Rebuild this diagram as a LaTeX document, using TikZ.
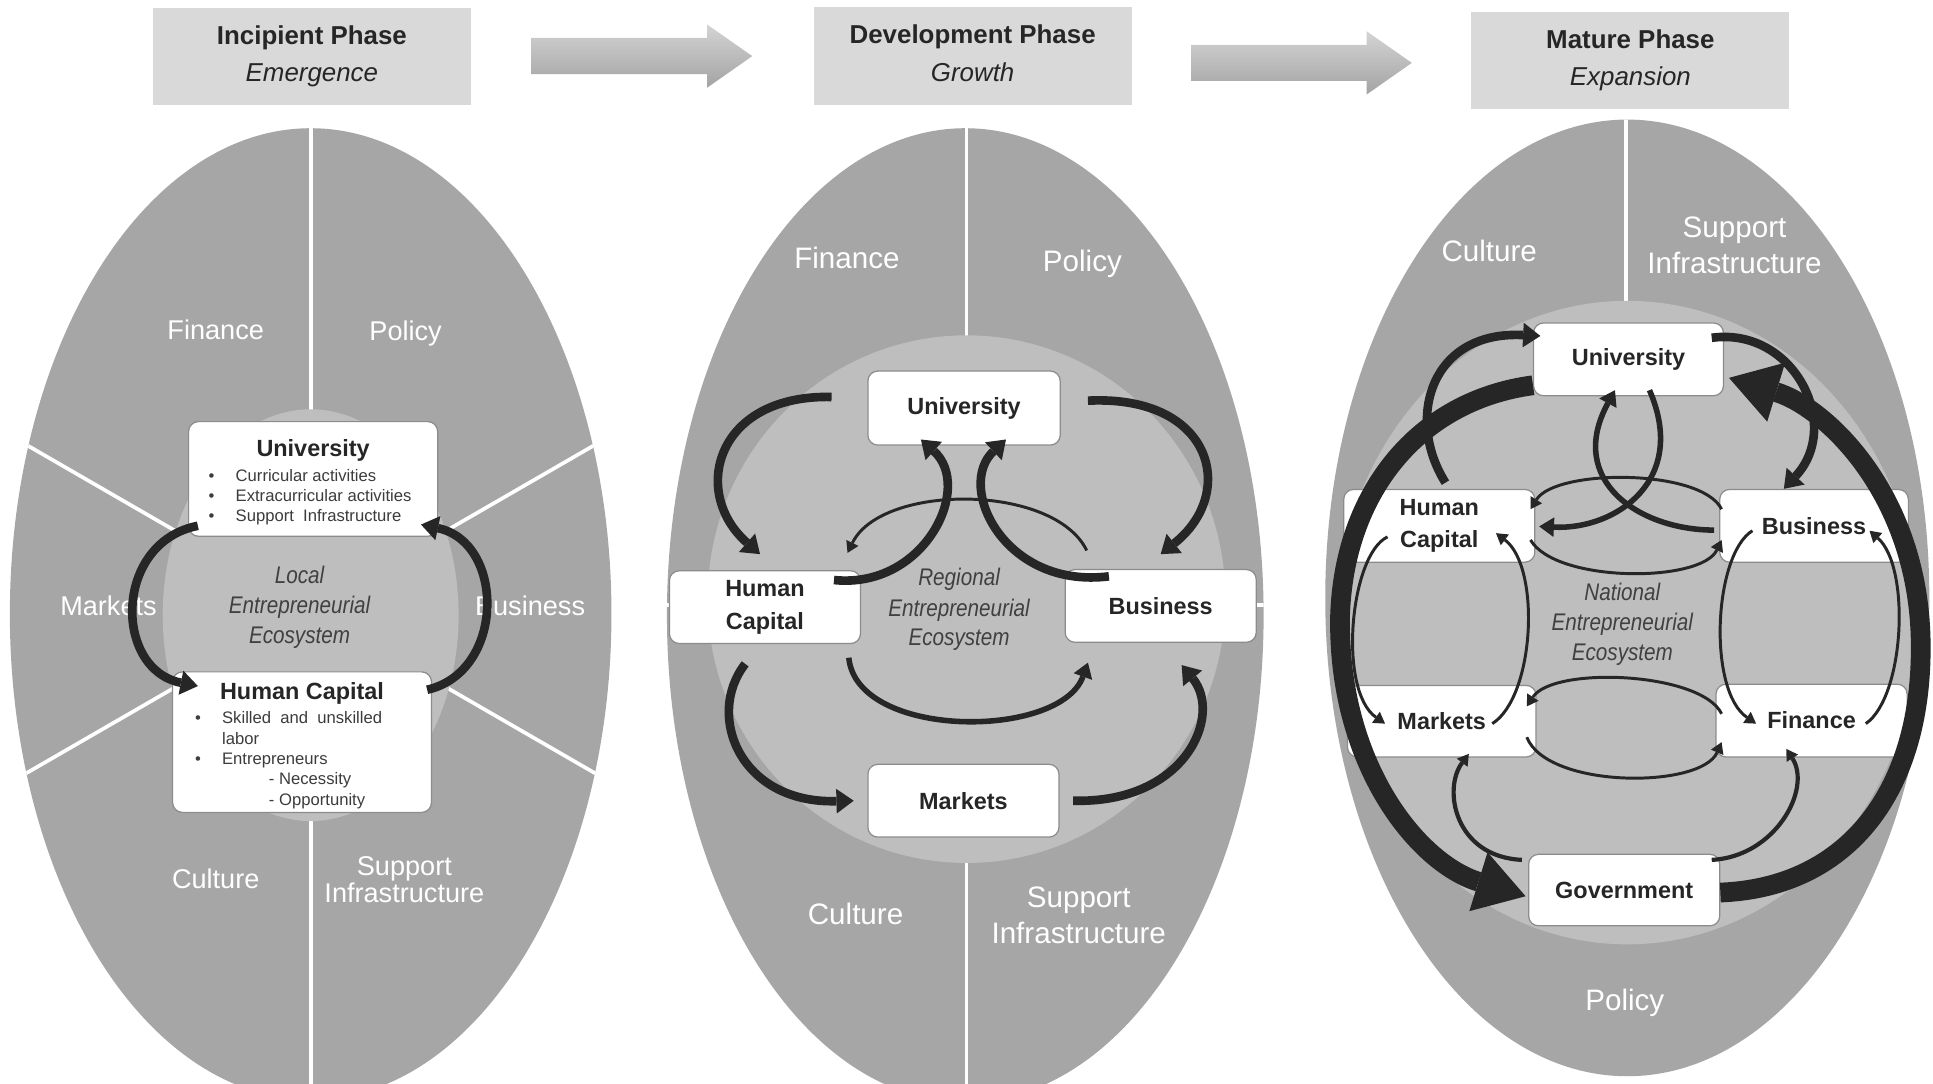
\documentclass[tikz,border=0pt]{standalone}
\usepackage{fontspec}
\setmainfont{Liberation Sans}
\newfontfamily\condensed[FakeStretch=0.86]{Liberation Sans}
\usetikzlibrary{arrows.meta,calc,shapes.arrows}

\definecolor{ringgray}{RGB}{166,166,166}
\definecolor{coregray}{RGB}{190,190,190}
\definecolor{headgray}{RGB}{217,217,217}
\definecolor{ink}{RGB}{38,38,38}
\definecolor{midtext}{RGB}{64,64,64}
\definecolor{boxline}{RGB}{140,140,140}

\tikzset{
  phasebox/.style={fill=headgray, minimum width=258pt, minimum height=79pt,
    inner sep=0pt, align=center, text=ink, font=\fontsize{21}{30.5}\selectfont},
  blockarrow/.style={single arrow, single arrow head extend=11pt,
    single arrow tip angle=70, minimum height=179pt, minimum width=51pt,
    inner xsep=0pt, inner ysep=14.5pt, draw=none,
    top color=black!17, bottom color=black!36},
  divider/.style={white, line width=3pt},
  seclabel/.style={anchor=base, inner sep=0pt, text=white,
    font=\fontsize{22}{26}\selectfont},
  seclabelL/.style={anchor=base, inner sep=0pt, text=white,
    font=\fontsize{24}{28}\selectfont},
  ecolabel/.style={anchor=base, inner sep=0pt, text=midtext,
    font=\condensed\itshape\fontsize{19.5}{24}\selectfont},
  unit/.style={draw=boxline, fill=white, rounded corners=8pt, line width=1pt,
    inner sep=0pt, align=center, text=ink,
    font=\bfseries\fontsize{19}{26.5}\selectfont},
  unittitle/.style={anchor=base, inner sep=0pt, text=ink,
    font=\bfseries\fontsize{19}{22}\selectfont},
  itemline/.style={anchor=base west, inner sep=0pt, text=ink!90,
    font=\fontsize{13.5}{16}\selectfont},
  flowA/.style={draw=ink, line width=7pt,
    -{Triangle[length=14pt,width=20pt,line width=0pt]}},
  flowB/.style={draw=ink, line width=4.5pt,
    -{Triangle[length=12pt,width=16pt,line width=0pt]}},
  flowC/.style={draw=ink, line width=2.4pt,
    -{Triangle[length=9pt,width=11pt,line width=0pt]}},
  flowD/.style={draw=ink, line width=16pt,
    -{Triangle[length=40pt,width=50pt,line width=0pt]}},
}

\newcommand{\bul}[1]{\makebox[22pt][l]{\textbullet}#1}

\begin{document}
\begin{tikzpicture}[x=1pt,y=-1pt]
\clip (0,0) rectangle (1568,879);
\fill[white] (0,0) rectangle (1568,879);

% ---------- phase headers and progression arrows ----------
\node[phasebox] (h1) at (253,45.7) {{\bfseries Incipient Phase}\\{\itshape Emergence}};
\node[phasebox] (h2) at (789,45.5) {{\bfseries Development Phase}\\{\itshape Growth\vphantom{g}}};
\node[phasebox] (h3) at (1322.5,49) {{\bfseries Mature Phase}\\{\itshape Expansion}};
\node[blockarrow, anchor=tail] (p12) at (431,45.5) {};
\node[blockarrow, anchor=tail] (p23) at (966,51) {};

% ---------- ellipse 1: local ecosystem ----------
\fill[ringgray] (252,498) ellipse [x radius=244, y radius=394];
\begin{scope}
  \clip (252,498) ellipse [x radius=244, y radius=394];
  \draw[divider] (252,494) -- ++(-400,-231);
  \draw[divider] (252,494) -- ++(400,-231);
  \draw[divider] (252,494) -- ++(-400,231);
  \draw[divider] (252,494) -- ++(400,231);
  \draw[divider] (252,494) -- ++(0,-500);
  \draw[divider] (252,494) -- ++(0,500);
  \fill[coregray] (252,499) ellipse [x radius=120, y radius=167];
\end{scope}
\node[seclabel] (f1) at (175,275) {Finance};
\node[seclabel] (p1) at (329,276) {Policy};
\node[seclabel] (m1) at (88,499) {Markets};
\node[seclabel] (b1) at (430,499) {Business};
\node[seclabel] (c1) at (175,721) {Culture};
\node[seclabel] (s1a) at (328,710) {Support};
\node[seclabel] (s1b) at (328,732) {Infrastructure};
\node[ecolabel] (e1a) at (243,473) {Local};
\node[ecolabel] (e1b) at (243,497.5) {Entrepreneurial};
\node[ecolabel] (e1c) at (243,522) {Ecosystem};

\node[unit, minimum width=202pt, minimum height=93pt] (u1) at (254,388.5) {};
\node[unittitle] (u1t) at (254,370.5) {University};
\node[itemline] (u1i1) at (169,390.5) {\bul{Curricular activities}};
\node[itemline] (u1i2) at (169,407) {\bul{Extracurricular activities}};
\node[itemline] (u1i3) at (169,423) {\bul{Support\ \ Infrastructure}};

\node[unit, minimum width=210pt, minimum height=114pt] (hc1) at (245,602) {};
\node[unittitle] (hc1t) at (245,567) {Human Capital};
\node[itemline] (hc1i1) at (158,587.2) {\bul{Skilled\ \ and\ \ unskilled}};
\node[itemline] (hc1i2) at (180,604.1) {labor};
\node[itemline] (hc1i3) at (158,620.4) {\bul{Entrepreneurs}};
\node[itemline] (hc1i4) at (218,636.5) {- Necessity};
\node[itemline] (hc1i5) at (218,653.3) {- Opportunity};

\draw[flowA] ($(u1.south west)+(8,-9)$) .. controls (92,440) and (92,543) .. ($(hc1.north west)+(21,12)$);
\draw[flowA] ($(hc1.north east)+(-4,15)$) .. controls (410,545) and (410,440) .. ($(u1.south east)+(-14,-10)$);

% ---------- ellipse 2: regional ecosystem ----------
\fill[ringgray] (783,499) ellipse [x radius=242, y radius=395];
\begin{scope}
  \clip (783,499) ellipse [x radius=242, y radius=395];
  \draw[divider] (784,0) -- (784,900);
  \draw[divider] (500,491) -- (1100,491);
  \fill[coregray] (784,486) ellipse [x radius=210, y radius=214];
\end{scope}
\node[seclabelL] (f2) at (687,218) {Finance};
\node[seclabelL] (p2) at (878,220) {Policy};
\node[seclabelL] (c2) at (694,750) {Culture};
\node[seclabelL] (s2a) at (875,736) {Support};
\node[seclabelL] (s2b) at (875,765) {Infrastructure};
\node[ecolabel] (e2a) at (778,474.6) {Regional};
\node[ecolabel] (e2b) at (778,500) {Entrepreneurial};
\node[ecolabel] (e2c) at (778,524) {Ecosystem};

\node[unit, minimum width=156pt, minimum height=60pt] (u2) at (782,331) {University};
\node[unit, minimum width=155pt, minimum height=59pt] (hc2) at (620.5,492.5) {Human\\Capital};
\node[unit, minimum width=155pt, minimum height=59pt] (bus2) at (941.5,491.5) {Business};
\node[unit, minimum width=155pt, minimum height=59pt] (mkt2) at (781.5,649.5) {Markets};

\draw[flowA] ($(u2.west)+(-29,-9)$) .. controls (580,320) and (560,400) .. ($(hc2.north)+(-4,-13)$);
\draw[flowA] ($(u2.east)+(22,-6)$) .. controls (984,320) and (1004,400) .. ($(bus2.north)+(0,-12)$);
\draw[flowA] ($(hc2.north east)+(-22,8)$) .. controls (750,478) and (790,395) .. ($(u2.south)+(-35,-5)$);
\draw[flowA] ($(bus2.north west)+(36,6)$) .. controls (815,478) and (775,395) .. ($(u2.south)+(34,-5)$);
\draw[flowC] ($(bus2.north west)+(18,-15)$) .. controls (855,392) and (715,392) .. ($(hc2.north east)+(-11,-14)$);
\draw[flowA] ($(hc2.south)+(-16,16)$) .. controls (572,580) and (600,652) .. ($(mkt2.west)+(-11,0)$);
\draw[flowA] ($(mkt2.east)+(11,0)$) .. controls (962,652) and (992,580) .. ($(bus2.south)+(17,18)$);
\draw[flowB] ($(hc2.south east)+(-10,11)$) .. controls (695,600) and (860,600) .. ($(bus2.south west)+(19,16)$);

% ---------- ellipse 3: national ecosystem ----------
\fill[ringgray] (1320,485) ellipse [x radius=245, y radius=388];
\begin{scope}
  \clip (1320,485) ellipse [x radius=245, y radius=388];
  \draw[divider] (1319,0) -- (1319,500);
  \fill[coregray] (1320,505) ellipse [x radius=236, y radius=261];
\end{scope}
\node[seclabelL] (c3) at (1208,212) {Culture};
\node[seclabelL] (s3a) at (1407,193) {Support};
\node[seclabelL] (s3b) at (1407,222) {Infrastructure};
\node[seclabelL] (p3) at (1318,820) {Policy};
\node[ecolabel] (e3a) at (1316,487) {National};
\node[ecolabel] (e3b) at (1316,511.5) {Entrepreneurial};
\node[ecolabel] (e3c) at (1316,535.5) {Ecosystem};

\node[unit, minimum width=154pt, minimum height=59pt] (u3) at (1321,291.5) {University};
\node[unit, minimum width=155pt, minimum height=59pt] (hc3) at (1167.5,426.5) {Human\\Capital};
\node[unit, minimum width=153pt, minimum height=59pt] (bus3) at (1471.5,426.5) {Business};
\node[unit, minimum width=153pt, minimum height=58pt] (mkt3) at (1169.5,585) {Markets};
\node[unit, minimum width=155pt, minimum height=59pt] (fin3) at (1469.5,584.5) {Finance};
\node[unit, minimum width=155pt, minimum height=58pt] (gov3) at (1317.5,722) {Government};

% outer loop through government
\draw[flowD] ($(u3.south west)+(0,-9)$) .. controls (1150,325) and (1090,400) .. (1087,500)
  .. controls (1085,620) and (1150,700) .. ($(gov3.west)+(-2,5)$);
\draw[flowD] ($(gov3.east)+(0,2)$) .. controls (1500,720) and (1560,640) .. (1558,520)
  .. controls (1556,400) and (1480,330) .. ($(u3.east)+(4,15)$);
% university links
\draw[flowA] ($(hc3.north)+(5,-5)$) .. controls (1140,340) and (1160,268) .. ($(u3.west)+(6,-19)$);
\draw[flowA] ($(u3.east)+(-10,-17.5)$) .. controls (1455,265) and (1495,345) .. ($(bus3.north)+(-24.5,0)$);
\draw[flowB] ($(bus3.west)+(-4,3.5)$) .. controls (1330,430) and (1270,390) .. ($(u3.south)+(-11,-5)$);
\draw[flowB] ($(u3.south)+(17,-5)$) .. controls (1370,390) and (1310,430) .. ($(hc3.east)+(3,0.5)$);
% human capital / business
\draw[flowC] ($(bus3.west)+(2,-13.5)$) .. controls (1380,380) and (1262,380) .. ($(hc3.east)+(-4,-13.5)$);
\draw[flowC] ($(hc3.east)+(-4,11.5)$) .. controls (1262,473) and (1380,473) .. ($(bus3.west)+(2,11.5)$);
% human capital / markets and business / finance
\draw[flowC] ($(hc3.south west)+(36,-21)$) .. controls (1095,450) and (1085,560) .. ($(mkt3.west)+(31,2)$);
\draw[flowC] ($(mkt3.east)+(-36,2)$) .. controls (1245,565) and (1250,460) .. ($(hc3.south east)+(-32,-24)$);
\draw[flowC] ($(bus3.south west)+(27,-26)$) .. controls (1390,450) and (1385,560) .. ($(fin3.west)+(33,2.5)$);
\draw[flowC] ($(fin3.east)+(-34,2.5)$) .. controls (1545,565) and (1550,460) .. ($(bus3.south east)+(-32,-26)$);
% markets / finance
\draw[flowC] ($(fin3.west)+(5,-5.5)$) .. controls (1380,545) and (1260,540) .. ($(mkt3.east)+(-8,-12)$);
\draw[flowC] ($(mkt3.east)+(-8,13)$) .. controls (1255,640) and (1380,640) .. ($(fin3.west)+(5,17.5)$);
% government links
\draw[flowC, line width=3.4pt] ($(gov3.north west)+(-5,5)$) .. controls (1180,695) and (1170,640) .. ($(mkt3.south)+(22,-3)$);
\draw[flowC, line width=3.4pt] ($(gov3.north east)+(-7,5)$) .. controls (1440,695) and (1470,640) .. ($(fin3.south)+(-20.5,-7)$);

\end{tikzpicture}
\end{document}
